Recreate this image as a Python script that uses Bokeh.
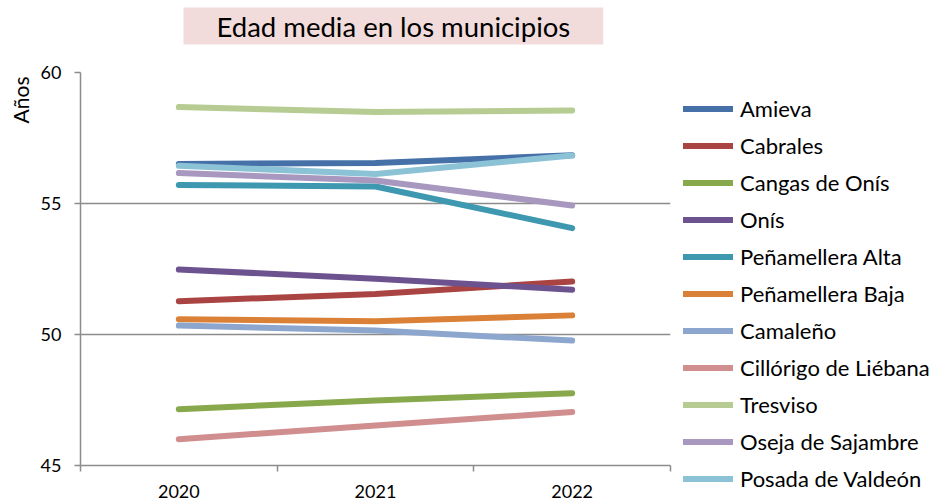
import math
from bokeh.plotting import figure
from bokeh.models import Range1d, FixedTicker, Legend, LegendItem, Title
from bokeh.embed import file_html
from bokeh.resources import INLINE

years = ["2020", "2021", "2022"]
municipios = ["Amieva", "Cabrales", "Cangas de Onís", "Onís", "Peñamellera Alta",
              "Peñamellera Baja", "Camaleño", "Cillórigo de Liébana", "Tresviso",
              "Oseja de Sajambre", "Posada de Valdeón"]
amieva = [56.51, 56.55, 56.84]
cabrales = [51.27, 51.55, 52.02]
cangas_de_onis = [47.15, 47.48, 47.76]
onis = [52.48, 52.13, 51.71]
penamellera_alta = [55.71, 55.65, 54.06]
penamellera_baja = [50.58, 50.51, 50.73]
camaleno = [50.34, 50.15, 49.77]
cillorigo = [46.00, 46.53, 47.04]
tresviso = [58.68, 58.49, 58.55]
oseja = [56.16, 55.88, 54.92]
posada = [56.44, 56.13, 56.83]
series = [amieva, cabrales, cangas_de_onis, onis, penamellera_alta, penamellera_baja,
          camaleno, cillorigo, tresviso, oseja, posada]
colors = ["#4571A8", "#A94442", "#88A84C", "#6C5390", "#3D98B0", "#DB8137",
          "#8DA6CE", "#D08E8E", "#B6CC93", "#A898C0", "#8CC2D6"]
y_ticks = [45, 50, 55, 60]

FONT = "Lato"
GRAY = "#8c8c8c"

xs = [i + 0.5 for i in range(len(years))]

p = figure(frame_width=590, frame_height=393,
           x_range=Range1d(0, len(years)), y_range=Range1d(y_ticks[0], y_ticks[-1]),
           output_backend="svg", toolbar_location=None,
           min_border_left=79, min_border_right=262, min_border_top=72, min_border_bottom=35)
p.outline_line_color = None
p.xgrid.visible = False
p.yaxis.ticker = FixedTicker(ticks=y_ticks)
p.ygrid.grid_line_color = GRAY
p.ygrid.grid_line_width = 1.5

ya = p.yaxis[0]
ya.axis_line_color = GRAY
ya.axis_line_width = 1.5
ya.major_tick_line_color = GRAY
ya.major_tick_line_width = 1.5
ya.major_tick_out = 6
ya.major_tick_in = 0
ya.minor_tick_out = 0
ya.minor_tick_in = 0
ya.major_label_text_font = FONT
ya.major_label_text_font_size = "18px"
ya.major_label_text_color = "#000000"
ya.major_label_standoff = 13

xa = p.xaxis[0]
xa.ticker = FixedTicker(ticks=xs, minor_ticks=[float(i) for i in range(len(years) + 1)])
xa.major_label_overrides = {x: y for x, y in zip(xs, years)}
xa.axis_line_color = GRAY
xa.axis_line_width = 1.5
xa.major_tick_out = 0
xa.major_tick_in = 0
xa.minor_tick_out = 6
xa.minor_tick_in = 0
xa.minor_tick_line_color = GRAY
xa.minor_tick_line_width = 1.5
xa.major_label_text_font = FONT
xa.major_label_text_font_size = "18px"
xa.major_label_text_color = "#000000"
xa.major_label_standoff = 13

items = []
for name, vals, c in zip(municipios, series, colors):
    r = p.line(xs, vals, line_color=c, line_width=6, line_cap="round", line_join="round")
    items.append(LegendItem(label=name, renderers=[r]))

legend = Legend(items=items, location=(13, -27), padding=0, margin=0, spacing=10,
                glyph_width=50, glyph_height=27, label_height=27, label_standoff=7,
                label_text_font=FONT, label_text_font_size="22px", label_text_color="#000000",
                border_line_color=None, background_fill_alpha=0)
p.add_layout(legend, "right")

spacer = Title(text=" ", text_font_size="1px", standoff=16)
p.add_layout(spacer, "above")

p.title.text = "Edad media en los municipios"
p.title.align = "left"
p.title.vertical_align = "top"
p.title.offset = 103
p.title.standoff = 14
p.title.text_font = FONT
p.title.text_font_size = "27.5px"
p.title.text_font_style = "normal"
p.title.text_color = "#000000"
p.title.background_fill_color = "#F2DCDB"
p.title.padding = (33, 33, 2, 2)

ylab = Title(text="Años", align="right", offset=4, text_font=FONT, text_font_size="21px",
             text_font_style="normal", text_color="#000000")
p.add_layout(ylab, "left")

open("out.html", "w").write(file_html(p, INLINE))
